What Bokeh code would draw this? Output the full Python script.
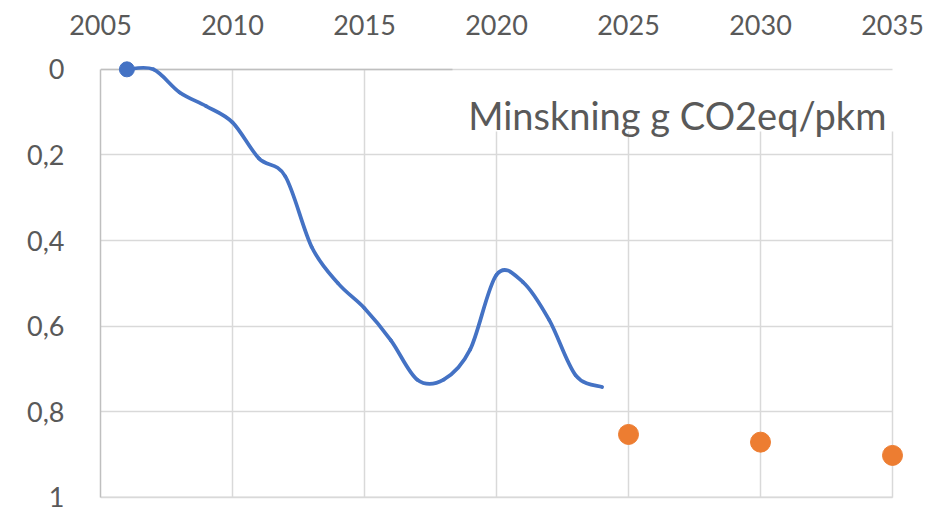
import numpy as np
from bokeh.plotting import figure
from bokeh.models import Range1d, FixedTicker, Grid, Label
from bokeh.embed import file_html
from bokeh.resources import INLINE

# ---- data ----
years = [2006, 2007, 2008, 2009, 2010, 2011, 2012, 2013, 2014, 2015,
         2016, 2017, 2018, 2019, 2020, 2021, 2022, 2023, 2024]
reduction = [0.0, 0.0, 0.054, 0.086, 0.124, 0.208, 0.25, 0.415, 0.5, 0.558,
             0.633, 0.725, 0.725, 0.655, 0.48, 0.497, 0.586, 0.715, 0.742]
target_years = [2025, 2030, 2035]
target_values = [0.853, 0.871, 0.902]
x_ticks = [2005, 2010, 2015, 2020, 2025, 2030, 2035]
y_ticks = [0, 0.2, 0.4, 0.6, 0.8, 1]
y_tick_labels = ["0", "0,2", "0,4", "0,6", "0,8", "1"]
title_text = "Minskning g CO2eq/pkm"

TEXT = "#595959"
GRID = "#d9d9d9"
AXIS = "#bfbfbf"
BLUE = "#4472C4"
ORANGE = "#ED7D31"
FONT = "Lato"

X0, X1 = x_ticks[0], x_ticks[-1]
Y0, Y1 = y_ticks[0], y_ticks[-1]
TITLE_LEFT = 2018.33   # left edge of the title box
TITLE_BOTTOM = 0.145   # lower edge of the title box

p = figure(width=935, height=515, output_backend="svg", toolbar_location=None,
           x_range=Range1d(X0, 2036.25), y_range=Range1d(1.005, -0.03),
           x_axis_location="above",
           min_border_left=100, min_border_right=10,
           min_border_top=56, min_border_bottom=16)
p.outline_line_color = None
p.background_fill_color = "white"
p.border_fill_color = "white"

p.xaxis.ticker = FixedTicker(ticks=x_ticks)
p.yaxis.ticker = FixedTicker(ticks=y_ticks)
p.yaxis.major_label_overrides = {t: l for t, l in zip(y_ticks, y_tick_labels)}
for ax in (p.xaxis[0], p.yaxis[0]):
    ax.major_tick_line_color = None
    ax.minor_tick_line_color = None
    ax.major_label_text_font = FONT
    ax.major_label_text_font_size = "27px"
    ax.major_label_text_color = TEXT
p.xaxis.axis_line_color = None
p.yaxis.axis_line_color = AXIS
p.yaxis.axis_line_width = 1.5
p.yaxis.bounds = (Y0, Y1)
p.xaxis.major_label_standoff = 16
p.yaxis.major_label_standoff = 30

# grid lines
p.xgrid.ticker = FixedTicker(ticks=[t for t in x_ticks if X0 < t < TITLE_LEFT])
p.xgrid.cross_bounds = (Y0, Y1)
p.ygrid.ticker = FixedTicker(ticks=y_ticks)
p.ygrid.bounds = (Y0 - 0.5, Y1 + 0.5)
p.ygrid.cross_bounds = (X0, X1)
for g in (p.xgrid[0], p.ygrid[0]):
    g.grid_line_color = GRID
    g.grid_line_width = 1.5

# vertical grid lines under the title start below the title box
g2 = Grid(dimension=0, ticker=FixedTicker(ticks=[t for t in x_ticks if t > TITLE_LEFT]),
          bounds=(X0 - 5, X1 + 5),
          cross_bounds=(TITLE_BOTTOM, Y1), grid_line_color=GRID, grid_line_width=1.5)
p.add_layout(g2)
# top axis line (darker) up to the title box
g3 = Grid(dimension=1, ticker=FixedTicker(ticks=[Y0]), bounds=(Y0 - 0.5, Y1 + 0.5),
          cross_bounds=(X0, TITLE_LEFT), grid_line_color=AXIS, grid_line_width=1.5)
p.add_layout(g3)

# bottom border line of the plot area (at the last y tick)
p.segment(x0=[X0], y0=[Y1], x1=[X1], y1=[Y1], line_color=GRID, line_width=1.5)

# smoothed line (Catmull-Rom style cubic Bezier segments, like Excel smoothing)
xs = np.array(years, dtype=float)
ys = np.array(reduction, dtype=float)
xp = np.concatenate([[xs[0]], xs, [xs[-1]]])
yp = np.concatenate([[ys[0]], ys, [ys[-1]]])
n = len(xs)
cx0 = xp[1:n] + (xp[2:n + 1] - xp[0:n - 1]) / 6.0
cy0 = yp[1:n] + (yp[2:n + 1] - yp[0:n - 1]) / 6.0
cx1 = xp[2:n + 1] - (xp[3:n + 2] - xp[1:n]) / 6.0
cy1 = yp[2:n + 1] - (yp[3:n + 2] - yp[1:n]) / 6.0
p.bezier(x0=xs[:-1], y0=ys[:-1], x1=xs[1:], y1=ys[1:],
         cx0=cx0, cy0=cy0, cx1=cx1, cy1=cy1,
         line_color=BLUE, line_width=3.75, line_cap="round")

p.scatter(x=years[:1], y=reduction[:1], size=15, color=BLUE)
p.scatter(x=target_years, y=target_values, size=20, color=ORANGE)

p.add_layout(Label(x=2034.77, y=0.1075, text=title_text, text_font=FONT,
                   text_font_size="38px", text_color=TEXT,
                   text_align="right", text_baseline="alphabetic"))

open("out.html", "w").write(file_html(p, INLINE))
